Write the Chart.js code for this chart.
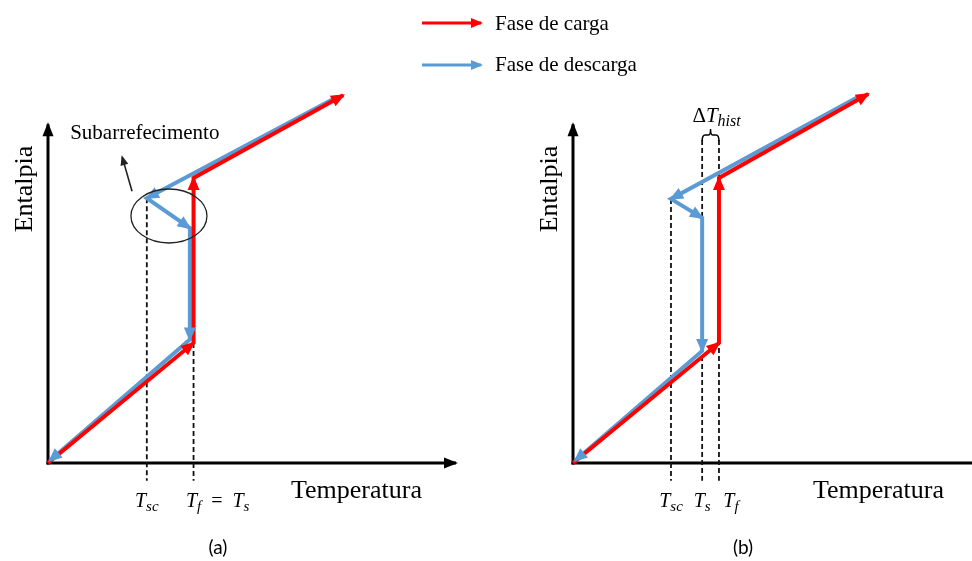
<!DOCTYPE html>
<html>
<head>
<meta charset="utf-8">
<script src="https://cdn.jsdelivr.net/npm/chart.js@4.4.0/dist/chart.umd.min.js"></script>
<style>
  html, body { margin: 0; padding: 0; background: #fff; }
  #wrap { position: relative; width: 972px; height: 561px; overflow: hidden; }
  #wrap canvas { position: absolute; left: 0; top: 0; }
</style>
</head>
<body>
<div id="wrap">
  <canvas id="panel-a" width="972" height="561"></canvas>
  <canvas id="panel-b" width="972" height="561"></canvas>
</div>
<script>
// Schematic values, temperature / enthalpy in arbitrary units (0..100)

// Panel (a): Tf = Ts
const chargeA_T = [0, 35.5, 35.5, 72];
const chargeA_H = [0, 31.6, 75, 96.8];
const dischargeA_T = [70.5, 24.1, 34.6, 34.6, 0.4];
const dischargeA_H = [96.3, 69.7, 61.8, 32.5, 0.6];
const markA_T = [24.1, 35.5];          // Tsc, Tf = Ts
const markA_top = [69.7, 31.6];
const tickA = [[['T', 'sc']], [['T', 'f'], '  =  ', ['T', 's']]];

// Panel (b): hysteresis
const chargeB_T = [0, 35.6, 35.6, 72];
const chargeB_H = [0, 31.6, 75, 97.1];
const dischargeB_T = [69.5, 23.9, 31.5, 31.5, 0.5];
const dischargeB_H = [96.3, 69.5, 64.5, 29.5, 0.6];
const markB_T = [23.9, 31.5, 35.6];    // Tsc, Ts, Tf
const markB_top = [69.5, 85, 85];
const tickB = [[['T', 'sc']], [['T', 's']], [['T', 'f']]];

const axisEnd_H = 89.7;
const markBottom_H = -4.7;

const RED = '#FF0000';
const BLUE = '#5B9BD5';
const SERIF = "'Liberation Serif', 'Times New Roman', serif";

// --- Helpers ---

function zip(xs, ys) {
  return xs.map((x, i) => ({ x, y: ys[i] }));
}

function arrowHead(ctx, x0, y0, x1, y1, len, half, color) {
  const a = Math.atan2(y1 - y0, x1 - x0);
  ctx.save();
  ctx.translate(x1, y1);
  ctx.rotate(a);
  ctx.beginPath();
  ctx.moveTo(2, 0);
  ctx.lineTo(-len, -half);
  ctx.lineTo(-len, half);
  ctx.closePath();
  ctx.fillStyle = color;
  ctx.fill();
  ctx.restore();
}

function arrowLine(ctx, x0, y0, x1, y1, width, color, len, half) {
  ctx.save();
  ctx.strokeStyle = color;
  ctx.lineWidth = width;
  ctx.beginPath();
  ctx.moveTo(x0, y0);
  ctx.lineTo(x1, y1);
  ctx.stroke();
  ctx.restore();
  arrowHead(ctx, x0, y0, x1, y1, len, half, color);
}

// math label: strings are upright, [base, sub] pairs are italic with subscript
function mathPieces(ctx, parts, size) {
  const out = [];
  const subSize = Math.round(size * 0.74);
  parts.forEach(p => {
    if (typeof p === 'string') {
      out.push({ text: p, font: `${size}px ${SERIF}`, dy: 0 });
    } else {
      out.push({ text: p[0], font: `italic ${size}px ${SERIF}`, dy: 0 });
      out.push({ text: p[1], font: `italic ${subSize}px ${SERIF}`, dy: 4 });
    }
  });
  out.forEach(o => { ctx.font = o.font; o.w = ctx.measureText(o.text).width; });
  return out;
}

function drawMath(ctx, parts, xAnchor, baseline, size, anchorFirst) {
  const pcs = mathPieces(ctx, parts, size);
  const total = pcs.reduce((s, o) => s + o.w, 0);
  let x;
  if (anchorFirst && typeof parts[0] !== 'string') {
    x = xAnchor - (pcs[0].w + pcs[1].w) / 2;
  } else {
    x = xAnchor - total / 2;
  }
  ctx.save();
  ctx.fillStyle = '#000';
  ctx.textBaseline = 'alphabetic';
  ctx.textAlign = 'left';
  pcs.forEach(o => {
    ctx.font = o.font;
    ctx.fillText(o.text, x, baseline + o.dy);
    x += o.w;
  });
  ctx.restore();
}

// --- Plugins ---

const axesPlugin = {
  id: 'axesArrows',
  beforeDatasetsDraw(chart, args, opts) {
    const { ctx, scales: { x, y } } = chart;
    const ox = x.getPixelForValue(0), oy = y.getPixelForValue(0);
    const endT = chart.config.options.axisEndT;
    arrowLine(ctx, ox - 1.5, oy, x.getPixelForValue(endT) - 2, oy, 3, '#000', 12, 5.5);
    arrowLine(ctx, ox, oy + 1.5, ox, y.getPixelForValue(axisEnd_H) + 2, 3, '#000', 12, 5.5);
  },
};

const segmentArrows = {
  id: 'segmentArrows',
  afterDatasetsDraw(chart) {
    const { ctx } = chart;
    // lower datasets first so the red arrows stay on top
    for (let i = chart.data.datasets.length - 1; i >= 0; i--) {
      const ds = chart.data.datasets[i];
      if (!ds.arrows) continue;
      const pts = chart.getDatasetMeta(i).data;
      for (let j = 1; j < pts.length; j++) {
        arrowHead(ctx, pts[j - 1].x, pts[j - 1].y, pts[j].x, pts[j].y, 12, 6, ds.borderColor);
      }
    }
  },
};

function labelsPlugin(panel) {
  return {
    id: 'panelLabels',
    afterDraw(chart) {
      const { ctx, scales: { x, y } } = chart;
      const ox = x.getPixelForValue(0), oy = y.getPixelForValue(0);

      ctx.save();
      ctx.fillStyle = '#000';
      // axis titles
      ctx.font = `26px ${SERIF}`;
      ctx.textAlign = 'left';
      ctx.textBaseline = 'alphabetic';
      ctx.fillText('Temperatura', ox + panel.tempTitleDx, oy + 35);

      ctx.save();
      ctx.translate(ox - 23, 189);
      ctx.rotate(-Math.PI / 2);
      ctx.font = `26px ${SERIF}`;
      ctx.textAlign = 'center';
      ctx.textBaseline = 'middle';
      ctx.fillText('Entalpia', 0, 0);
      ctx.restore();

      // panel caption
      ctx.font = `19px Lato, 'Open Sans', sans-serif`;
      ctx.textAlign = 'center';
      ctx.textBaseline = 'middle';
      ctx.fillText(panel.caption, ox + 170, 548);
      ctx.restore();

      // temperature marks
      panel.markT.forEach((t, i) => {
        drawMath(ctx, panel.ticks[i], x.getPixelForValue(t) + (panel.tickDx[i] || 0), oy + 44, 20, true);
      });

      if (panel.extra) panel.extra(chart, ctx, x, y);
    },
  };
}

function extraA(chart, ctx, x, y) {
  // subcooling ellipse
  ctx.save();
  ctx.strokeStyle = '#222';
  ctx.lineWidth = 1.3;
  ctx.beginPath();
  ctx.ellipse(x.getPixelForValue(29.5), y.getPixelForValue(65), 38, 27, 0, 0, Math.PI * 2);
  ctx.stroke();
  ctx.restore();

  arrowLine(ctx, x.getPixelForValue(20.5), y.getPixelForValue(71.5),
    x.getPixelForValue(18.1), y.getPixelForValue(80.5), 1.6, '#222', 8, 4);

  ctx.save();
  ctx.fillStyle = '#000';
  ctx.font = `21px ${SERIF}`;
  ctx.textAlign = 'left';
  ctx.textBaseline = 'middle';
  ctx.fillText('Subarrefecimento', x.getPixelForValue(5.4), 133);
  ctx.restore();

  // legend
  ctx.save();
  arrowLine(ctx, 422, 23, 481, 23, 3, RED, 10, 5);
  arrowLine(ctx, 422, 65, 481, 65, 3, BLUE, 10, 5);
  ctx.fillStyle = '#000';
  ctx.font = `21px ${SERIF}`;
  ctx.textAlign = 'left';
  ctx.textBaseline = 'middle';
  ctx.fillText('Fase de carga', 495, 24);
  ctx.fillText('Fase de descarga', 495, 65);
  ctx.restore();
}

function extraB(chart, ctx, x, y) {
  const x1 = x.getPixelForValue(markB_T[1]);
  const x2 = x.getPixelForValue(markB_T[2]);
  const yb = y.getPixelForValue(markB_top[1]) - 5;
  const xm = (x1 + x2) / 2;
  ctx.save();
  ctx.strokeStyle = '#000';
  ctx.lineWidth = 1.5;
  ctx.beginPath();
  ctx.moveTo(x1, yb + 6);
  ctx.quadraticCurveTo(x1, yb, x1 + 3, yb);
  ctx.lineTo(xm - 2, yb);
  ctx.quadraticCurveTo(xm, yb, xm, yb - 6);
  ctx.quadraticCurveTo(xm, yb, xm + 2, yb);
  ctx.lineTo(x2 - 3, yb);
  ctx.quadraticCurveTo(x2, yb, x2, yb + 6);
  ctx.stroke();
  ctx.restore();
  drawMath(ctx, ['\u0394', ['T', 'hist']], xm + 6, yb - 13, 21, false);
}

// --- Charts ---

function dashed(t, top) {
  return {
    data: [{ x: t, y: top }, { x: t, y: markBottom_H }],
    showLine: true,
    borderColor: '#111',
    borderWidth: 1.8,
    borderDash: [5, 3],
    pointRadius: 0,
    order: 3,
  };
}

function makePanel(id, panel) {
  const datasets = [
    {
      data: zip(panel.chargeT, panel.chargeH),
      showLine: true, borderColor: RED, borderWidth: 4,
      pointRadius: 0, tension: 0, arrows: true, order: 1,
    },
    {
      data: zip(panel.dischargeT, panel.dischargeH),
      showLine: true, borderColor: BLUE, borderWidth: 4,
      pointRadius: 0, tension: 0, arrows: true, order: 2,
    },
    ...panel.markT.map((t, i) => dashed(t, panel.markTop[i])),
  ];

  return new Chart(document.getElementById(id), {
    type: 'scatter',
    data: { datasets },
    options: {
      responsive: false,
      animation: false,
      events: [],
      axisEndT: panel.axisEndT,
      layout: { padding: panel.padding },
      plugins: { legend: { display: false }, tooltip: { enabled: false } },
      scales: {
        x: { type: 'linear', display: false, min: panel.xMin, max: panel.xMax },
        y: { type: 'linear', display: false, min: -20, max: 100 },
      },
    },
    plugins: [axesPlugin, segmentArrows, labelsPlugin(panel)],
  });
}

makePanel('panel-a', {
  chargeT: chargeA_T, chargeH: chargeA_H,
  dischargeT: dischargeA_T, dischargeH: dischargeA_H,
  markT: markA_T, markTop: markA_top, ticks: tickA, tickDx: [0, 0],
  xMin: -10, xMax: 110, axisEndT: 100,
  padding: { left: 7, right: 473, top: 83, bottom: 22 },
  caption: '(a)', tempTitleDx: 243,
  extra: extraA,
});

makePanel('panel-b', {
  chargeT: chargeB_T, chargeH: chargeB_H,
  dischargeT: dischargeB_T, dischargeH: dischargeB_H,
  markT: markB_T, markTop: markB_top, ticks: tickB, tickDx: [0, 0, 12],
  xMin: -10, xMax: 95, axisEndT: 103,
  padding: { left: 532, right: 9.5, top: 83, bottom: 22 },
  caption: '(b)', tempTitleDx: 240,
  extra: extraB,
});
</script>
</body>
</html>
